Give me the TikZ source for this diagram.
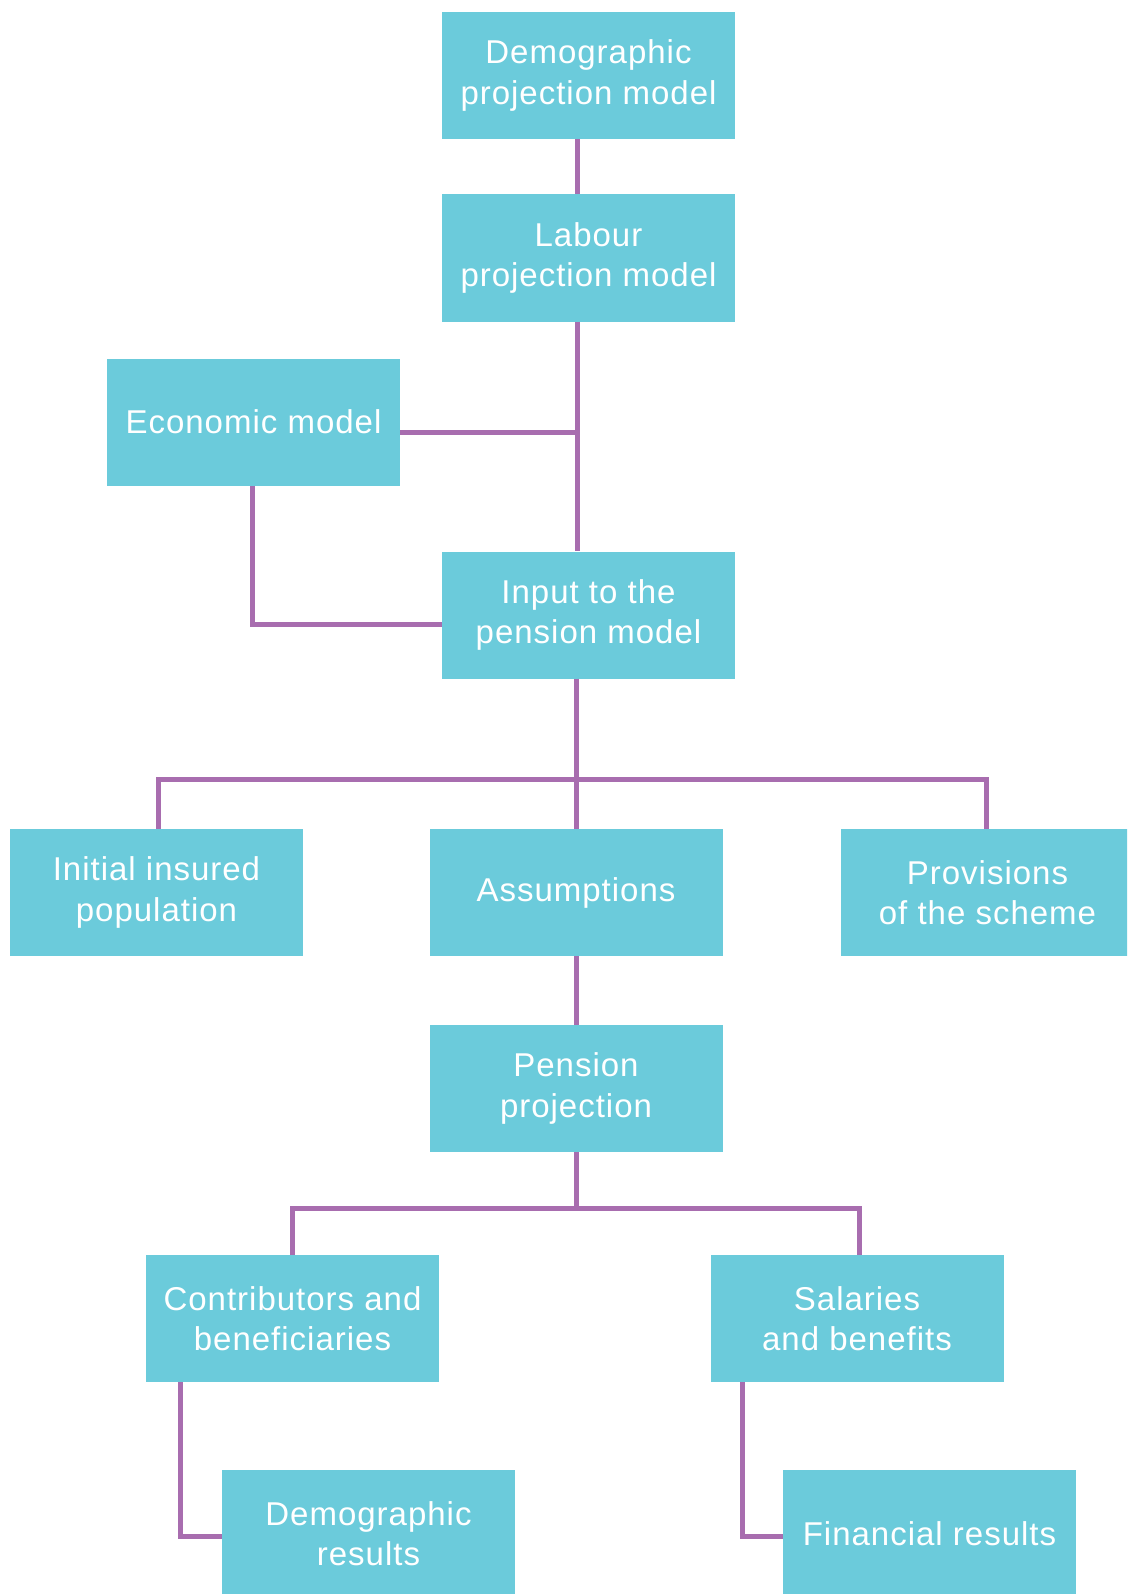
\documentclass[tikz,border=0pt]{standalone}
\usepackage{fontspec}
\setmainfont[LetterSpace=3]{Liberation Sans}
\definecolor{boxcyan}{HTML}{6BCBDB}
\definecolor{linkpurple}{HTML}{A86DAF}
\begin{document}
\begin{tikzpicture}
    [
    x=1pt, y=-1pt,
    model/.style={rectangle,fill=boxcyan,text=white,inner sep=0pt,minimum width=293pt,minimum height=127pt,align=center,font=\fontsize{33}{40.6}\selectfont},
    link/.style={draw=linkpurple,line width=5pt}
    ]
    \clip (0,0) rectangle (1127,1594);
    \fill[white] (0,0) rectangle (1127,1594);
    % boxes
    \node (demproj) at (588.5,75.5) [model] {Demographic\\projection model};
    \node (labproj) at (588.5,258) [model] {Labour\\projection model};
    \node (econ) at (253.5,422) [model] {Economic model};
    \node (input) at (588.5,615) [model] {Input to the\\pension model};
    \node (initpop) at (156.5,892.5) [model] {Initial insured\\population};
    \node (assump) at (576,892.5) [model] {Assumptions};
    \node (provis) at (987.5,892.5) [model] {Provisions\\of the scheme};
    \node (penproj) at (576,1088.5) [model] {Pension\\projection};
    \node (contrib) at (292.5,1318.5) [model] {Contributors and\\beneficiaries};
    \node (salben) at (857,1318.5) [model] {Salaries\\and benefits};
    \node (demres) at (368.5,1533.5) [model] {Demographic\\results};
    \node (finres) at (929.5,1533.5) [model] {Financial results};
    % junctions
    \coordinate (jecon) at (577,432);
    \coordinate (jinput) at (576,779);
    \coordinate (jpen) at (576,1208);
    \coordinate (ecorner) at (252,624);
    \coordinate (ccorner) at (180,1536);
    \coordinate (scorner) at (742,1536);
    % links
    \draw [link] (demproj.south -| jecon) -- (labproj.north -| jecon);
    \draw [link] (labproj.south -| jecon) -- (input.north -| jecon);
    \draw [link] (econ.east |- jecon) -- (jecon);
    \draw [link] (econ.south -| ecorner) -- (ecorner) -- (input.west |- ecorner);
    \draw [link] (input.south -| jinput) -- (assump.north -| jinput);
    \draw [link] (initpop.north -| 158,0) -- (158,779) -- (986,779) -- (provis.north -| 986,0);
    \draw [link] (assump.south) -- (penproj.north);
    \draw [link] (penproj.south -| jpen) -- (jpen);
    \draw [link] (contrib.north -| 292,0) -- (292,1208) -- (859,1208) -- (salben.north -| 859,0);
    \draw [link] (contrib.south -| ccorner) -- (ccorner) -- (demres.west |- ccorner);
    \draw [link] (salben.south -| scorner) -- (scorner) -- (finres.west |- scorner);
  \end{tikzpicture}
\end{document}
